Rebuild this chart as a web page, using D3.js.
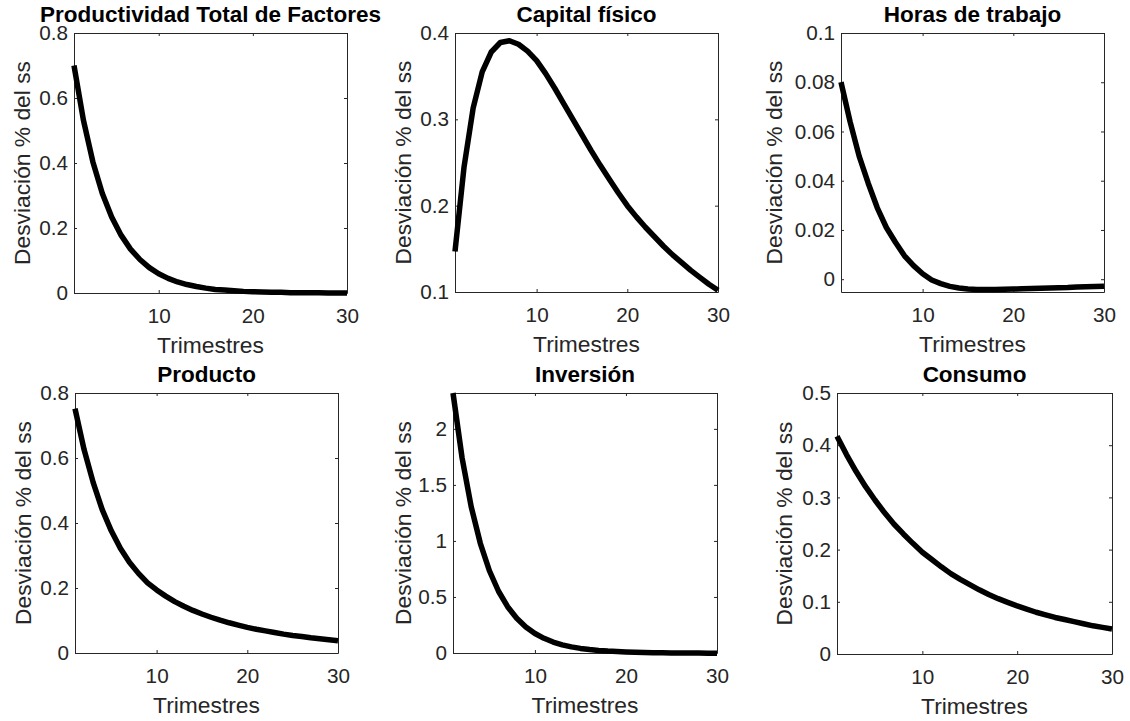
<!DOCTYPE html>
<html>
<head>
<meta charset="utf-8">
<script src="https://cdn.jsdelivr.net/npm/d3@7"></script>
<style>
  html, body { margin: 0; padding: 0; background: #fff; }
  svg { display: block; }
  text { font-family: "Liberation Sans", Arial, Helvetica, sans-serif; }
</style>
</head>
<body>
<svg id="chart" width="1130" height="721"></svg>
<script>
// ---------------- DATA ----------------
const trimestres = [1,2,3,4,5,6,7,8,9,10,11,12,13,14,15,16,17,18,19,20,21,22,23,24,25,26,27,28,29,30];

const titulos = ["Productividad Total de Factores", "Capital físico", "Horas de trabajo",
                 "Producto", "Inversión", "Consumo"];

const tfp = [0.700,0.532,0.404,0.307,0.234,0.178,0.135,0.103,0.078,0.059,
             0.045,0.034,0.026,0.020,0.015,0.011,0.009,0.007,0.005,0.004,
             0.003,0.002,0.002,0.001,0.001,0.001,0.001,0.000,0.000,0.000];

const capital = [0.147,0.245,0.313,0.355,0.378,0.389,0.391,0.387,0.379,0.368,
                 0.353,0.336,0.318,0.300,0.282,0.264,0.247,0.231,0.215,0.200,
                 0.187,0.175,0.164,0.153,0.143,0.134,0.125,0.117,0.109,0.102];

const horas = [0.0800,0.0640,0.0500,0.0390,0.0290,0.0210,0.0150,0.0095,0.0055,0.0022,
               -0.0003,-0.0018,-0.0029,-0.0036,-0.0040,-0.0042,-0.0042,-0.0042,-0.0041,-0.0040,
               -0.0039,-0.0038,-0.0037,-0.0036,-0.0035,-0.0034,-0.0032,-0.0031,-0.0030,-0.0029];

const producto = [0.752,0.626,0.525,0.441,0.376,0.322,0.279,0.245,0.216,0.194,
                  0.175,0.158,0.144,0.131,0.120,0.110,0.101,0.093,0.086,0.079,
                  0.073,0.068,0.063,0.058,0.054,0.051,0.047,0.044,0.041,0.038];

const inversion = [2.320,1.740,1.305,0.979,0.734,0.551,0.413,0.310,0.232,0.174,
                   0.131,0.098,0.073,0.055,0.041,0.031,0.023,0.017,0.013,0.010,
                   0.007,0.005,0.003,0.002,0.001,0.000,-0.001,-0.001,-0.002,-0.002];

const consumo = [0.417,0.382,0.350,0.321,0.295,0.271,0.249,0.230,0.212,0.195,
                 0.181,0.167,0.154,0.143,0.133,0.123,0.114,0.106,0.099,0.092,
                 0.086,0.080,0.075,0.070,0.066,0.062,0.058,0.054,0.051,0.048];

const yLimites = [[0, 0.8], [0.1, 0.4], [-0.0052, 0.1], [0, 0.8], [0, 2.32], [0, 0.5]];
const yTicks = [[0,0.2,0.4,0.6,0.8], [0.1,0.2,0.3,0.4], [0,0.02,0.04,0.06,0.08,0.1],
                [0,0.2,0.4,0.6,0.8], [0,0.5,1,1.5,2], [0,0.1,0.2,0.3,0.4,0.5]];
const xLimites = [1, 30];
const xTicks = [10, 20, 30];
const etiquetaX = "Trimestres";
const etiquetaY = "Desviación % del ss";

const series = [tfp, capital, horas, producto, inversion, consumo];

// ---------------- LAYOUT ----------------
const cajas = [
  {x0: 74,  x1: 347,  y0: 33,  y1: 293, lab: 44},
  {x0: 455, x1: 718,  y0: 33,  y1: 292, lab: 44},
  {x0: 841, x1: 1104, y0: 33,  y1: 292, lab: 59},
  {x0: 75,  x1: 338,  y0: 393, y1: 653, lab: 44},
  {x0: 453, x1: 717,  y0: 393, y1: 653, lab: 42},
  {x0: 837, x1: 1112, y0: 393, y1: 654, lab: 45}
];

const axisColor = "#262626";
const tickFont = 20.7, labelFont = 22.8, titleFont = 22.5;
const fmt = d => String(+d.toFixed(4));

const svg = d3.select("#chart");

series.forEach((vals, i) => {
  const c = cajas[i];
  const w = c.x1 - c.x0, h = c.y1 - c.y0;
  const g = svg.append("g").attr("transform", `translate(${c.x0},${c.y0})`);

  const x = d3.scaleLinear().domain(xLimites).range([0, w]);
  const y = d3.scaleLinear().domain(yLimites[i]).range([h, 0]);

  const styleAxis = sel => {
    sel.select(".domain").attr("stroke", axisColor).attr("stroke-width", 1);
    sel.selectAll(".tick line").attr("stroke", axisColor).attr("stroke-width", 1);
    sel.selectAll(".tick text").attr("fill", axisColor)
       .attr("font-size", tickFont)
       .attr("font-family", '"Liberation Sans", Arial, sans-serif');
  };

  g.append("g").attr("transform", `translate(0,${h})`)
    .call(d3.axisBottom(x).tickValues(xTicks).tickSizeInner(-3).tickSizeOuter(0).tickPadding(15).tickFormat(fmt))
    .call(styleAxis);
  g.append("g")
    .call(d3.axisTop(x).tickValues(xTicks).tickSizeInner(-3).tickSizeOuter(0).tickFormat(""))
    .call(styleAxis);
  g.append("g")
    .call(d3.axisLeft(y).tickValues(yTicks[i]).tickSizeInner(-3).tickSizeOuter(0).tickPadding(6).tickFormat(fmt))
    .call(styleAxis);
  g.append("g").attr("transform", `translate(${w},0)`)
    .call(d3.axisRight(y).tickValues(yTicks[i]).tickSizeInner(-3).tickSizeOuter(0).tickFormat(""))
    .call(styleAxis);

  const line = d3.line()
    .x((d, j) => x(trimestres[j]))
    .y(d => y(d))
    .curve(d3.curveLinear);
  g.append("path")
    .datum(vals)
    .attr("fill", "none")
    .attr("stroke", "#000")
    .attr("stroke-width", 5.5)
    .attr("stroke-linejoin", "round")
    .attr("d", line);

  g.append("text")
    .attr("x", w / 2).attr("y", -11)
    .attr("text-anchor", "middle")
    .attr("font-weight", "bold")
    .attr("font-size", titleFont)
    .attr("fill", "#000")
    .text(titulos[i]);

  g.append("text")
    .attr("x", w / 2).attr("y", h + 60)
    .attr("text-anchor", "middle")
    .attr("font-size", labelFont)
    .attr("fill", axisColor)
    .text(etiquetaX);

  g.append("text")
    .attr("transform", `translate(${-c.lab},${h / 2}) rotate(-90)`)
    .attr("text-anchor", "middle")
    .attr("font-size", labelFont)
    .attr("fill", axisColor)
    .text(etiquetaY);
});
</script>
</body>
</html>
